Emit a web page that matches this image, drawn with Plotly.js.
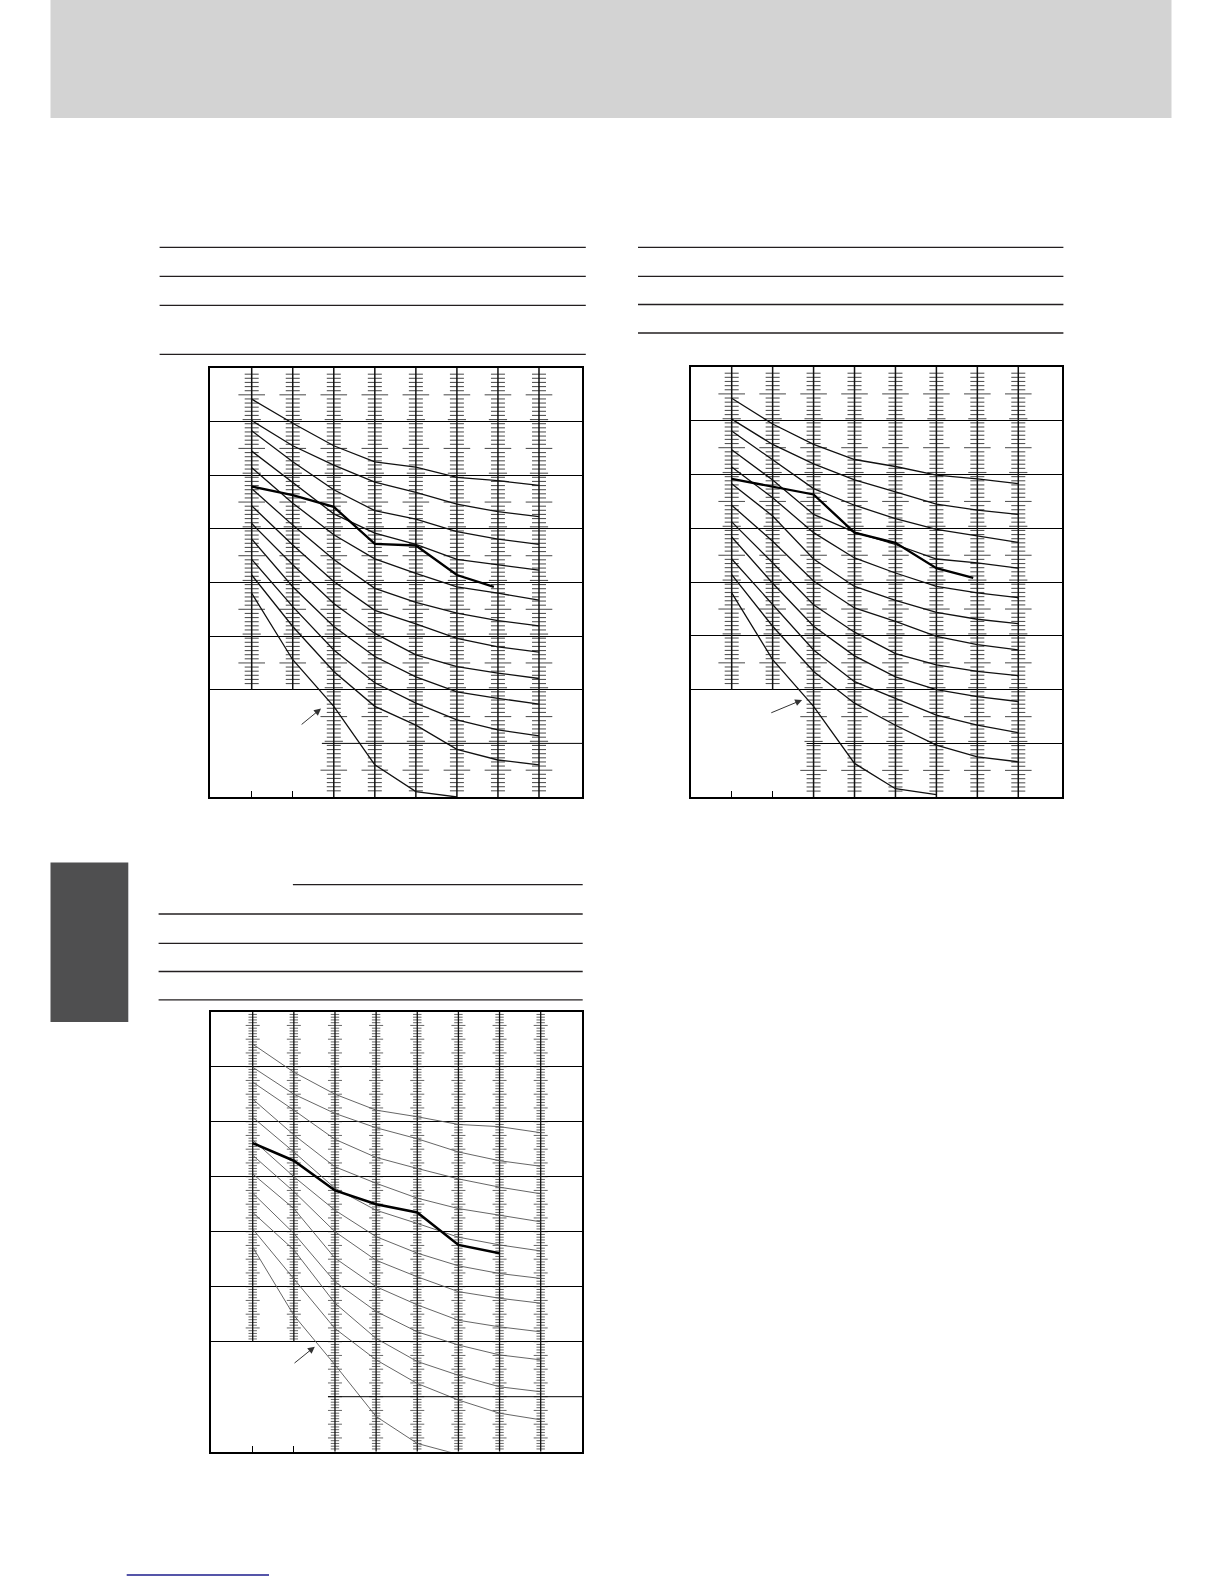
<!DOCTYPE html>
<html><head><meta charset="utf-8">
<script src="https://cdn.plot.ly/plotly-3.0.1.min.js"></script>
<style>html,body{margin:0;padding:0;background:#fff;}#chart{width:1224px;height:1584px;}</style>
</head><body><div id="chart"></div>
<script>
// ---------- data ----------
const columns = [0, 1, 2, 3, 4, 5, 6, 7];
const lowestColumns = [0, 1, 2, 3, 4, 5];
const boldColumnsA = [0, 1, 2, 3, 4, 5, 5.9];
const boldColumnsB = [0, 1, 2, 3, 4, 5, 6];

const p1Curves = [
  [74.2, 69.7, 65.5, 62.5, 61.5, 59.6, 59.0, 58.1],
  [70.2, 65.5, 61.9, 58.7, 56.8, 54.6, 53.2, 52.3],
  [68.3, 62.5, 57.3, 53.4, 51.8, 49.5, 48.1, 47.1],
  [64.5, 58.6, 52.8, 49.2, 47.1, 44.3, 43.3, 42.3],
  [61.4, 54.8, 48.9, 44.4, 41.7, 39.2, 38.0, 36.7],
  [57.5, 50.7, 44.3, 38.9, 36.3, 34.3, 32.9, 31.9],
  [54.3, 47.0, 40.2, 34.8, 32.3, 29.6, 28.0, 27.0],
  [51.0, 43.3, 36.1, 30.5, 26.5, 24.3, 23.1, 22.1],
  [48.1, 39.2, 31.8, 26.2, 22.4, 19.6, 18.4, 17.3],
  [44.3, 35.5, 27.4, 21.3, 17.5, 14.4, 12.5, 11.4],
  [41.4, 31.8, 23.4, 16.9, 13.4, 8.9, 6.9, 6.0]
];
const p1Lowest = [38.0, 25.6, 16.9, 6.0, 1.0, 0.0];
const p1Bold = [57.9, 56.3, 54.1, 47.2, 46.9, 41.4, 39.2];

const p2Curves = [
  [74.2, 69.4, 65.6, 62.8, 61.5, 59.9, 59.2, 58.3],
  [70.3, 65.6, 62.0, 59.0, 56.8, 54.5, 53.4, 52.6],
  [68.1, 62.8, 57.4, 54.3, 51.8, 49.8, 48.6, 47.4],
  [64.6, 59.0, 52.6, 49.3, 47.0, 44.3, 43.6, 42.6],
  [61.4, 55.7, 49.2, 44.5, 41.7, 39.2, 38.0, 37.1],
  [58.3, 52.3, 44.3, 39.2, 36.6, 34.4, 33.1, 32.3],
  [54.3, 47.6, 40.2, 35.2, 32.7, 29.9, 28.4, 27.4],
  [51.2, 43.6, 35.8, 30.7, 26.7, 24.6, 23.4, 22.6],
  [48.4, 39.8, 31.8, 26.3, 22.4, 20.0, 18.7, 17.8],
  [44.3, 35.8, 27.4, 21.5, 18.4, 15.3, 13.4, 12.0],
  [41.4, 31.8, 23.4, 17.5, 13.4, 9.7, 7.5, 6.6]
];
const p2Lowest = [38.0, 25.6, 16.9, 6.3, 1.6, 0.5];
const p2Bold = [59.2, 57.7, 56.3, 49.2, 47.3, 42.6, 40.8];

const p3Curves = [
  [74.1, 69.0, 65.0, 62.1, 60.9, 59.5, 59.1, 58.0],
  [69.9, 65.0, 61.5, 58.9, 56.9, 54.5, 52.9, 51.9],
  [67.2, 62.1, 56.8, 53.5, 51.5, 49.6, 48.1, 46.9],
  [64.1, 57.6, 51.8, 48.8, 46.1, 44.2, 43.0, 41.8],
  [60.8, 54.5, 47.9, 43.9, 41.5, 39.0, 37.6, 36.5],
  [56.7, 50.0, 43.9, 39.1, 36.1, 33.8, 32.4, 31.5],
  [53.9, 47.3, 40.0, 34.8, 31.8, 29.1, 27.9, 27.0],
  [50.5, 44.2, 35.2, 30.0, 26.7, 23.9, 22.7, 21.8],
  [47.0, 39.7, 30.9, 25.5, 21.8, 19.4, 17.6, 16.7],
  [43.5, 36.7, 27.0, 20.6, 16.4, 13.9, 11.8, 10.9],
  [40.5, 31.5, 22.4, 16.7, 12.4, 9.4, 7.0, 5.8]
];
const p3Lowest = [37.2, 24.8, 15.8, 6.4, 1.5, -0.5];
const p3Bold = [56.1, 52.9, 47.5, 45.0, 43.5, 37.6, 36.1];

// ---------- page geometry ----------
const W = 1224, H = 1584;
const P = x => x / W;
const Q = y => 1 - y / H;

const panels = [
  { id: '', left: 210, right: 582, top: 368, bottom: 797, xr: [-1.016, 8.048],
    curves: p1Curves, lowest: p1Lowest, bold: p1Bold, boldX: boldColumnsA,
    thin: { color: '#111', width: 1.3 }, boldW: 2.3, vw: 1.5,
    tick: 'coarse', partialStart: 1.71,
    arrow: { hx: 1.69, hy: 16.5, tx: 1.18, ty: 13.3 } },
  { id: '2', left: 690.7, right: 1062, top: 367, bottom: 797.3, xr: [-1.0015, 8.068],
    curves: p2Curves, lowest: p2Lowest, bold: p2Bold, boldX: boldColumnsA,
    thin: { color: '#111', width: 1.3 }, boldW: 2.3, vw: 1.5,
    tick: 'coarse', partialStart: 1.83,
    arrow: { hx: 1.72, hy: 18.1, tx: 0.93, ty: 15.6 } },
  { id: '3', left: 211, right: 582, top: 1011.7, bottom: 1451.7, xr: [-1.0136, 8.004],
    curves: p3Curves, lowest: p3Lowest, bold: p3Bold, boldX: boldColumnsB,
    thin: { color: '#555', width: 0.9 }, boldW: 2.6, vw: 1.3,
    tick: 'fine', partialStart: 1.83,
    arrow: { hx: 1.51, hy: 19.1, tx: 0.98, ty: 15.9 } }
];

const traces = [];
const layout = {
  width: W, height: H, margin: { l: 0, r: 0, t: 0, b: 0 },
  paper_bgcolor: '#fff', plot_bgcolor: '#fff', showlegend: false,
  shapes: [], annotations: []
};

panels.forEach(pn => {
  const xa = 'x' + pn.id, ya = 'y' + pn.id;
  layout['xaxis' + pn.id] = {
    domain: [P(pn.left), P(pn.right)], range: pn.xr, anchor: ya,
    showgrid: false, zeroline: false, showline: true, mirror: true,
    linecolor: '#000', linewidth: 2, ticks: 'inside', tickvals: [0, 1],
    ticklen: 6, tickwidth: 1.2, tickcolor: '#000', showticklabels: false, fixedrange: true
  };
  layout['yaxis' + pn.id] = {
    domain: [Q(pn.bottom), Q(pn.top)], range: [0, 80], anchor: xa,
    showgrid: true, gridcolor: '#000', gridwidth: 1, tickvals: [20, 30, 40, 50, 60, 70],
    ticks: '', showticklabels: false, zeroline: false, showline: true, mirror: true,
    linecolor: '#000', linewidth: 2, fixedrange: true
  };
  // partial grid line at 10
  layout.shapes.push({ type: 'line', xref: xa, yref: ya, x0: pn.partialStart, x1: pn.xr[1],
    y0: 10, y1: 10, line: { color: '#000', width: 1 } });

  // vertical scale lines
  const vx = [], vy = [];
  columns.forEach(c => { vx.push(c, c, null); vy.push(c < 2 ? 20 : 0, 80, null); });
  traces.push({ type: 'scatter', mode: 'lines', x: vx, y: vy, xaxis: xa, yaxis: ya,
    line: { color: '#111', width: pn.vw }, hoverinfo: 'skip' });

  // scale ticks
  const tx = [], ty = [], ts = [];
  columns.forEach(c => {
    const low = c < 2 ? 21 : 1;
    if (pn.tick === 'coarse') {
      const step = 10 / 13;
      for (let i = -5; i < 120; i++) {
        const v = 75 - i * step;
        if (v > 79.2 || v < low) continue;
        const k = ((i % 13) + 13) % 13;
        tx.push(c); ty.push(v); ts.push(k === 0 ? 19 : (k === 6 ? 13 : 10));
      }
    } else {
      for (let i = 1; i < 160; i++) {
        const v = 80 - i * 0.5;
        if (v < low - 0.5) continue;
        tx.push(c); ty.push(v); ts.push(i % 5 === 0 ? 10 : 6);
      }
    }
  });
  traces.push({ type: 'scatter', mode: 'markers', x: tx, y: ty, xaxis: xa, yaxis: ya,
    marker: { symbol: 'line-ew', size: ts, color: '#111',
      line: { color: '#111', width: pn.tick === 'coarse' ? 1.1 : 0.9 } },
    hoverinfo: 'skip' });

  // curves
  pn.curves.forEach(row => {
    traces.push({ type: 'scatter', mode: 'lines', x: columns, y: row, xaxis: xa, yaxis: ya,
      line: pn.thin, hoverinfo: 'skip' });
  });
  traces.push({ type: 'scatter', mode: 'lines', x: lowestColumns, y: pn.lowest, xaxis: xa, yaxis: ya,
    line: pn.thin, hoverinfo: 'skip' });
  traces.push({ type: 'scatter', mode: 'lines', x: pn.boldX, y: pn.bold, xaxis: xa, yaxis: ya,
    line: { color: '#000', width: pn.boldW }, hoverinfo: 'skip' });

  // arrow
  layout.annotations.push({ xref: xa, yref: ya, axref: xa, ayref: ya,
    x: pn.arrow.hx, y: pn.arrow.hy, ax: pn.arrow.tx, ay: pn.arrow.ty,
    text: '', showarrow: true, arrowhead: 2, arrowsize: 1.4, arrowwidth: 1, arrowcolor: '#333' });
});

// ---------- page furniture ----------
const S = layout.shapes;
S.push({ type: 'rect', xref: 'paper', yref: 'paper', x0: P(50.5), x1: P(1171.5), y0: Q(118), y1: Q(0),
  fillcolor: '#d3d3d3', line: { width: 0 }, layer: 'below' });
S.push({ type: 'rect', xref: 'paper', yref: 'paper', x0: P(50.5), x1: P(128.3), y0: Q(1022), y1: Q(862.5),
  fillcolor: '#4f4f50', line: { width: 0 }, layer: 'below' });
function hline(x0, x1, y, color, w) {
  S.push({ type: 'line', xref: 'paper', yref: 'paper', x0: P(x0), x1: P(x1), y0: Q(y), y1: Q(y),
    line: { color: color, width: w }, layer: 'below' });
}
[247.3, 276.3, 305.3, 354.3].forEach(y => hline(159.6, 585.8, y, '#231f20', 1.3));
[247.3, 276.3, 304.5, 333].forEach(y => hline(638, 1063.4, y, '#231f20', 1.3));
hline(292.9, 582.7, 884.7, '#231f20', 1.3);
[914, 943.3, 971.5, 999.8].forEach(y => hline(158.6, 582.7, y, '#231f20', 1.3));
hline(126.7, 269, 1575, '#1c1c8c', 1.5);

Plotly.newPlot('chart', traces, layout, { staticPlot: true, displayModeBar: false });
</script>
</body></html>
